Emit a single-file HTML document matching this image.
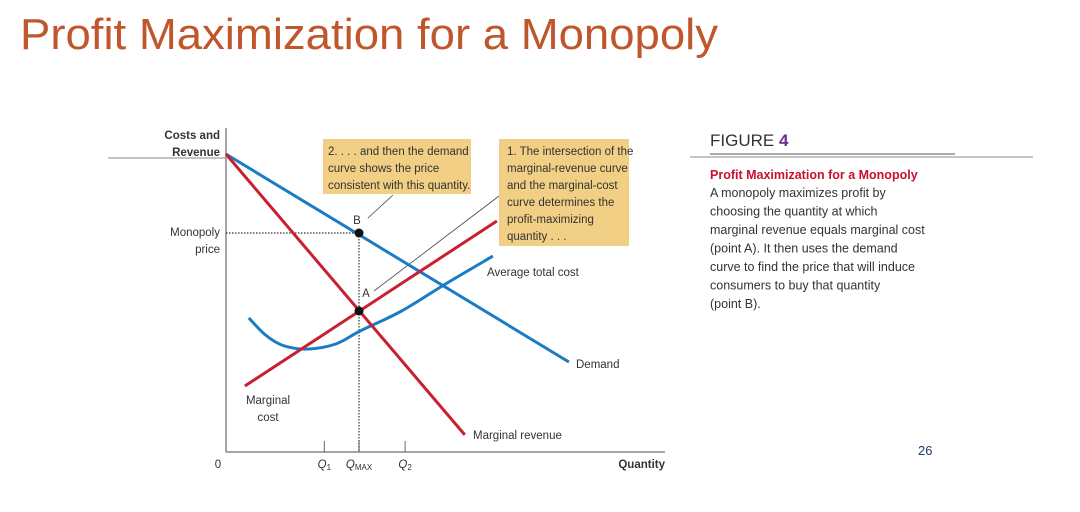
<!DOCTYPE html>
<html><head><meta charset="utf-8"><style>
html,body{margin:0;padding:0;background:#fff;width:1080px;height:512px;overflow:hidden}
svg{display:block}
.c{font-family:"Liberation Sans Narrow","Liberation Sans",sans-serif;font-size:11.5px;fill:#333}
.t{font-family:"Liberation Sans",sans-serif;fill:#333}
</style></head><body>
<svg id="chart" width="1080" height="512" viewBox="0 0 1080 512">
<text x="20" y="49" font-family="Liberation Sans, sans-serif" font-size="44" fill="#c0562c" textLength="698" lengthAdjust="spacingAndGlyphs">Profit Maximization for a Monopoly</text>
<line x1="108" y1="158" x2="226" y2="158" stroke="#888" stroke-width="1"/>
<line x1="690" y1="157" x2="1033" y2="157" stroke="#888" stroke-width="1"/>
<line x1="710" y1="154" x2="955" y2="154" stroke="#555" stroke-width="1"/>
<text x="710" y="146" class="t" font-size="17" fill="#222">FIGURE <tspan fill="#6a2c91" font-weight="bold">4</tspan></text>
<text x="710" y="179" class="t" font-size="12.5" font-weight="bold" fill="#c8102e" style="fill:#c8102e">Profit Maximization for a Monopoly</text>
<g class="t" font-size="12.5">
<text x="710" y="197">A monopoly maximizes profit by</text>
<text x="710" y="215.5">choosing the quantity at which</text>
<text x="710" y="234">marginal revenue equals marginal cost</text>
<text x="710" y="252.5">(point A). It then uses the demand</text>
<text x="710" y="271">curve to find the price that will induce</text>
<text x="710" y="289.5">consumers to buy that quantity</text>
<text x="710" y="308">(point B).</text>
</g>
<text x="918" y="455" font-family="Liberation Sans, sans-serif" font-size="13" fill="#1f3864">26</text>
<g id="plot"></g>
</svg>
<script>
const demandQ=[0,78.1], demandP=[99.3,30];
const mrQ=[0,54.4], mrP=[99.3,5.7];
const mcQ=[4.3,61.7], mcP=[22,77];
const atcQ=[5.2,9,13,18.5,25,30.5,40,50,60.8];
const atcP=[44.7,39,35.5,34.3,36,40.3,47,56,65.3];
const qMax=30.3, monoPrice=73, pointA=47;
const tickQ=[22.4,30.3,40.8];
const tickLabels=["Q1","QMAX","Q2"];
const X=q=>226+q*4.39, Y=p=>452-p*3.0;
const NS="http://www.w3.org/2000/svg", g=document.getElementById('plot');
function mk(tag,attrs,txt){const e=document.createElementNS(NS,tag);for(const k in attrs)e.setAttribute(k,attrs[k]);if(txt!==undefined)e.textContent=txt;g.appendChild(e);return e;}
// boxes
let e;
e=mk('rect',{x:323,y:139,width:148,height:55,fill:'#f1cf84'});


e=mk('rect',{x:499,y:139,width:130,height:107,fill:'#f1cf84'});


const b2=["2. . . . and then the demand","curve shows the price","consistent with this quantity."];
b2.forEach((s,i)=>{e=mk('text',{x:328,y:155+i*17,class:'c'},s);});
const b1=["1. The intersection of the","marginal-revenue curve","and the marginal-cost","curve determines the","profit-maximizing","quantity . . ."];
b1.forEach((s,i)=>{e=mk('text',{x:507,y:155+i*17,class:'c'},s);});
// leaders
e=mk('line',{x1:393,y1:195,x2:368,y2:218,stroke:'#444','stroke-width':0.8});


e=mk('line',{x1:499,y1:196,x2:374,y2:291,stroke:'#444','stroke-width':0.8});


// axes
e=mk('line',{x1:226,y1:128,x2:226,y2:452,stroke:'#888','stroke-width':1.5});


e=mk('line',{x1:226,y1:452,x2:665,y2:452,stroke:'#888','stroke-width':1.5});


tickQ.forEach((q,i)=>{
 e=mk('line',{x1:X(q),y1:441,x2:X(q),y2:452,stroke:'#666','stroke-width':1});
 
 
 const lab=tickLabels[i];
 e=mk('text',{x:X(q),y:468,class:'c','text-anchor':'middle','font-style':'italic'});
 
 
 const a=document.createElementNS(NS,'tspan');a.textContent='Q';e.appendChild(a);
 const b=document.createElementNS(NS,'tspan');b.textContent=lab.slice(1);b.setAttribute('font-size','8');b.setAttribute('dy','2');b.setAttribute('font-style','normal');e.appendChild(b);
});
e=mk('text',{x:218,y:468,class:'c','text-anchor':'middle'},'0');


e=mk('text',{x:665,y:468,class:'c','text-anchor':'end','font-weight':'bold'},'Quantity');


e=mk('text',{x:220,y:139,class:'c','text-anchor':'end','font-weight':'bold'},'Costs and');


e=mk('text',{x:220,y:156,class:'c','text-anchor':'end','font-weight':'bold'},'Revenue');


e=mk('text',{x:220,y:236,class:'c','text-anchor':'end'},'Monopoly');


e=mk('text',{x:220,y:253,class:'c','text-anchor':'end'},'price');


// dotted guides
e=mk('line',{x1:X(0),y1:Y(monoPrice),x2:X(qMax),y2:Y(monoPrice),stroke:'#333','stroke-width':1.2,'stroke-dasharray':'1.5 1.5'});


e=mk('line',{x1:X(qMax),y1:Y(monoPrice),x2:X(qMax),y2:452,stroke:'#333','stroke-width':1.2,'stroke-dasharray':'1.5 1.5'});


function path(qs,ps){return qs.map((q,i)=>(i?'L':'M')+X(q).toFixed(1)+' '+Y(ps[i]).toFixed(1)).join(' ');}
function smooth(qs,ps){let d='M'+X(qs[0])+' '+Y(ps[0]);for(let i=0;i<qs.length-1;i++){const p0=[X(qs[Math.max(0,i-1)]),Y(ps[Math.max(0,i-1)])],p1=[X(qs[i]),Y(ps[i])],p2=[X(qs[i+1]),Y(ps[i+1])],p3=[X(qs[Math.min(qs.length-1,i+2)]),Y(ps[Math.min(qs.length-1,i+2)])];d+=` C${p1[0]+(p2[0]-p0[0])/6} ${p1[1]+(p2[1]-p0[1])/6} ${p2[0]-(p3[0]-p1[0])/6} ${p2[1]-(p3[1]-p1[1])/6} ${p2[0]} ${p2[1]}`;}return d;}
e=mk('path',{d:smooth(atcQ,atcP),fill:'none',stroke:'#1a7dc4','stroke-width':3});


e=mk('path',{d:path(demandQ,demandP),fill:'none',stroke:'#1a7dc4','stroke-width':3});


e=mk('path',{d:path(mcQ,mcP),fill:'none',stroke:'#c8202f','stroke-width':3});


e=mk('path',{d:path(mrQ,mrP),fill:'none',stroke:'#c8202f','stroke-width':3});


e=mk('circle',{cx:X(qMax),cy:Y(monoPrice),r:4.5,fill:'#111'});


e=mk('circle',{cx:X(qMax),cy:Y(pointA),r:4.5,fill:'#111'});


e=mk('text',{x:X(qMax)-2,y:Y(monoPrice)-9,class:'c','text-anchor':'middle'},'B');


e=mk('text',{x:X(qMax)+7,y:Y(pointA)-14,class:'c','text-anchor':'middle'},'A');


e=mk('text',{x:487,y:276,class:'c'},'Average total cost');


e=mk('text',{x:576,y:368,class:'c'},'Demand');


e=mk('text',{x:473,y:439,class:'c'},'Marginal revenue');


e=mk('text',{x:268,y:404,class:'c','text-anchor':'middle'},'Marginal');


e=mk('text',{x:268,y:421,class:'c','text-anchor':'middle'},'cost');


</script>
</body></html>
